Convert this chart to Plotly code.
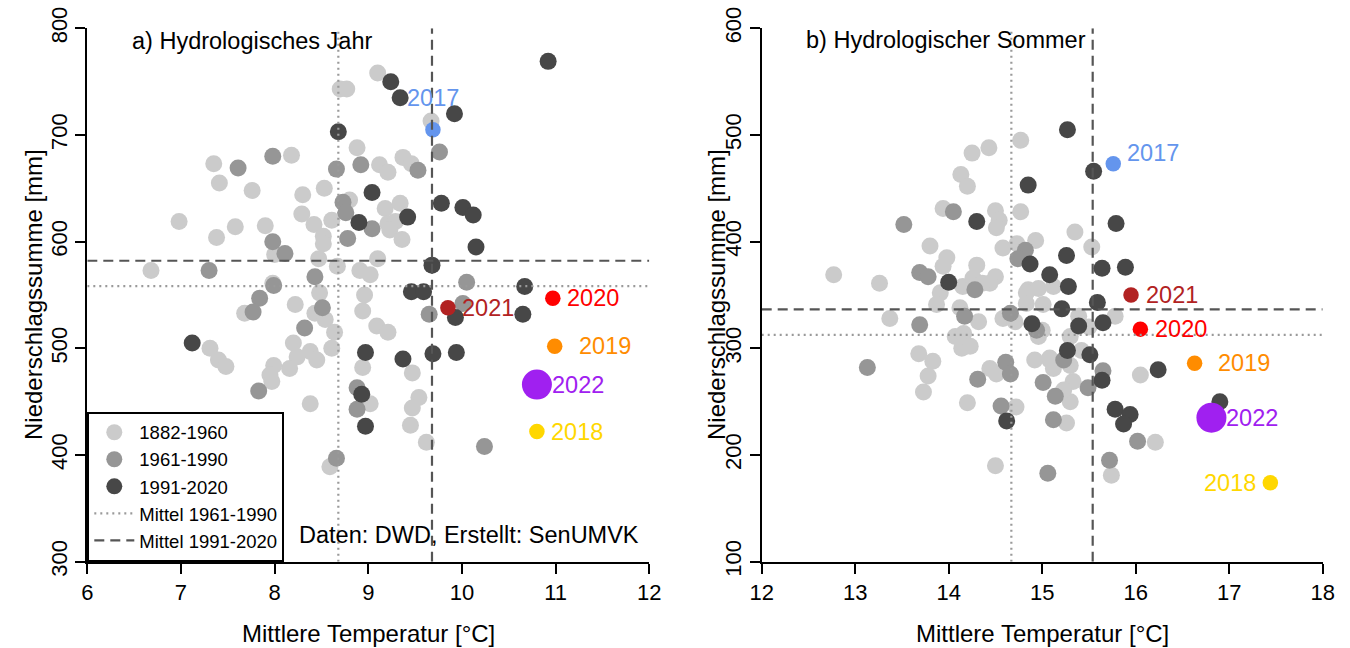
import plotly.graph_objects as go

FONT = "Liberation Sans, Arial, sans-serif"
W, H = 1350, 648

# ---------------- data: panel a) Hydrologisches Jahr ----------------
a_1882_1960_temp = [9.10, 8.70, 8.77, 8.88, 9.12, 8.18, 7.35, 7.41, 7.76, 8.53, 8.30, 8.80, 8.29, 8.42,
                    8.61, 6.98, 7.58, 7.90, 7.38, 8.52, 8.52, 8.00, 8.47, 8.67, 6.68, 8.91, 9.02, 9.10,
                    7.98, 8.48, 8.96, 7.68, 8.22, 8.43, 8.54, 8.64, 8.20, 8.61, 8.38, 8.45, 8.24, 8.16,
                    7.99, 7.95, 7.97, 8.38, 7.31, 7.40, 7.48, 8.94, 9.09, 8.94, 9.02, 8.59, 9.21, 9.37,
                    9.46, 9.18, 9.34, 9.21, 9.29, 9.23, 9.36, 9.67, 9.21, 9.47, 9.54, 9.47, 9.45, 9.62]
a_1882_1960_prec = [758, 743, 743, 688, 672, 681, 673, 655, 648, 650, 644, 639, 626, 616,
                    620, 619, 614, 615, 604, 605, 598, 588, 584, 577, 573, 573, 569, 584,
                    561, 552, 550, 533, 541, 533, 527, 515, 505, 500, 497, 489, 492, 481,
                    484, 475, 469, 448, 500, 489, 483, 535, 521, 482, 448, 389, 665, 679,
                    673, 631, 636, 617, 619, 611, 602, 713, 515, 477, 454, 444, 428, 412]

a_1961_1990_temp = [8.92, 7.98, 7.61, 8.66, 8.73, 8.76, 9.04, 8.78, 7.98, 8.11, 7.30, 8.43, 7.99, 7.84,
                    7.77, 8.51, 8.32, 7.83, 8.88, 8.88, 8.66, 9.76, 9.53, 10.05, 10.01, 9.65, 10.24]
a_1961_1990_prec = [672, 680, 669, 668, 637, 627, 612, 603, 600, 589, 573, 567, 559, 547,
                    534, 538, 519, 460, 463, 443, 397, 684, 667, 562, 542, 532, 408]

a_1991_2020_temp = [8.68, 9.04, 8.90, 7.12, 8.97, 8.93, 8.97, 9.24, 9.34, 9.92, 10.92, 9.78, 10.01,
                    10.12, 9.42, 10.15, 9.68, 10.67, 9.46, 9.59, 9.93, 10.65, 9.37, 9.69, 9.94]
a_1991_2020_prec = [703, 646, 618, 505, 496, 457, 427, 750, 735, 720, 769, 636, 632,
                    625, 623, 595, 578, 558, 553, 553, 529, 532, 490, 495, 496]

highlight_years = ["2017", "2018", "2019", "2020", "2021", "2022"]
a_highlight_temp = [9.69, 10.80, 10.99, 10.97, 9.85, 10.80]
a_highlight_prec = [705, 422, 502, 547, 538, 466]

a_mean_1961_1990 = (8.68, 558.4)   # (temperature, precipitation)
a_mean_1991_2020 = (9.68, 582.1)

# ---------------- data: panel b) Hydrologischer Sommer ----------------
b_1882_1960_temp = [14.77, 14.25, 14.43, 14.13, 14.20, 13.94, 14.50, 14.54, 14.51, 14.77, 13.80, 14.58,
                    14.73, 14.93, 13.98, 13.94, 14.30, 14.50, 14.44, 12.77, 13.26, 14.15, 14.26, 14.36,
                    13.91, 14.85, 14.96, 15.35, 15.53, 15.12, 13.87, 14.12, 14.32, 13.37, 14.58, 14.71,
                    14.96, 14.83, 14.83, 15.01, 14.07, 14.16, 14.14, 14.23, 13.68, 13.83, 13.78, 13.73,
                    14.20, 14.44, 14.51, 14.72, 14.50, 14.92, 15.08, 15.39, 15.78, 15.50, 15.00, 15.30,
                    15.42, 15.08, 15.24, 15.12, 15.30, 16.05, 15.33, 15.30, 15.23, 15.26, 16.21, 15.74]
b_1882_1960_prec = [495, 483, 488, 463, 452, 431, 429, 420, 413, 428, 396, 394,
                    398, 401, 385, 377, 378, 367, 361, 369, 361, 358, 366, 361,
                    352, 355, 356, 409, 395, 358, 341, 338, 325, 328, 328, 325,
                    311, 352, 342, 341, 311, 314, 300, 302, 295, 288, 274, 259,
                    249, 281, 276, 245, 190, 289, 289, 330, 330, 320, 317, 311,
                    298, 291, 289, 281, 284, 275, 269, 250, 261, 230, 212, 181]

b_1961_1990_temp = [14.05, 13.52, 14.82, 14.74, 13.69, 13.78, 14.28, 14.17, 13.69, 14.66, 14.94, 13.13,
                    14.31, 14.61, 14.66, 14.56, 15.01, 15.14, 15.12, 15.06, 15.23, 15.65, 15.49, 16.02,
                    15.72]
b_1961_1990_prec = [428, 416, 392, 384, 371, 367, 355, 330, 322, 333, 317, 282,
                    271, 287, 276, 246, 268, 255, 233, 183, 289, 279, 263, 213,
                    195]

b_1991_2020_temp = [14.85, 14.30, 14.87, 14.00, 15.08, 15.27, 15.55, 15.79, 15.26, 15.64, 15.89, 15.28,
                    14.89, 14.62, 15.21, 15.59, 15.39, 15.65, 15.27, 15.51, 15.64, 16.24, 15.78, 15.94,
                    15.87, 16.90]
b_1991_2020_prec = [453, 419, 379, 362, 369, 505, 466, 417, 387, 375, 376, 358,
                    323, 232, 337, 343, 321, 324, 298, 294, 270, 280, 243, 238,
                    229, 250]

b_highlight_temp = [15.76, 17.44, 16.63, 16.05, 15.95, 16.81]
b_highlight_prec = [473, 174, 286, 318, 350, 235]

b_mean_1961_1990 = (14.67, 312.6)
b_mean_1991_2020 = (15.54, 336.6)

# ---------------- axes / labels ----------------
a_x_range = [6, 12]
a_y_range = [300, 800]
b_x_range = [12, 18]
b_y_range = [100, 600]

group_names = ["1882-1960", "1961-1990", "1991-2020"]
group_colors = ["#cbcbcb", "#969696", "#474747"]
highlight_colors = ["#6495ED", "#FFD700", "#FF8C00", "#FF0000", "#B22222", "#A020F0"]
highlight_sizes = [15.5, 15.5, 15.5, 15.5, 15.5, 30]
mean_names = ["Mittel 1961-1990", "Mittel 1991-2020"]
mean_styles = [dict(color="#9a9a9a", width=2.2, dash="2px,4px"),
               dict(color="#555555", width=2.2, dash="10px,6px")]

# label placement per panel: (xanchor, xshift, yshift)
a_label_place = [("center", 0, 32), ("left", 12, 0), ("left", 22, 0),
                 ("left", 12, 0), ("left", 12, 0), ("left", 13, 0)]
b_label_place = [("left", 12, 11), ("right", -12, 0), ("left", 21, 0),
                 ("left", 13, 0), ("left", 13, 0), ("left", 13, 0)]

fig = go.Figure()

panels = [
    dict(xa="x", ya="y", groups=[(a_1882_1960_temp, a_1882_1960_prec), (a_1961_1990_temp, a_1961_1990_prec),
                                 (a_1991_2020_temp, a_1991_2020_prec)],
         hl=(a_highlight_temp, a_highlight_prec), means=[a_mean_1961_1990, a_mean_1991_2020],
         xr=a_x_range, yr=a_y_range, place=a_label_place, legend=True),
    dict(xa="x2", ya="y2", groups=[(b_1882_1960_temp, b_1882_1960_prec), (b_1961_1990_temp, b_1961_1990_prec),
                                   (b_1991_2020_temp, b_1991_2020_prec)],
         hl=(b_highlight_temp, b_highlight_prec), means=[b_mean_1961_1990, b_mean_1991_2020],
         xr=b_x_range, yr=b_y_range, place=b_label_place, legend=False),
]

annotations = []
for p in panels:
    for (tx, py), name, col in zip(p["groups"], group_names, group_colors):
        fig.add_trace(go.Scatter(x=tx, y=py, mode="markers", name=name, xaxis=p["xa"], yaxis=p["ya"],
                                 marker=dict(color=col, size=17, opacity=1, line=dict(width=0)),
                                 showlegend=p["legend"], legendgroup=name))
    hx, hy = p["hl"]
    fig.add_trace(go.Scatter(x=hx, y=hy, mode="markers", xaxis=p["xa"], yaxis=p["ya"], showlegend=False,
                             marker=dict(color=highlight_colors, size=highlight_sizes, opacity=1,
                                         line=dict(width=0))))
    for (mt, mp), name, style in zip(p["means"], mean_names, mean_styles):
        fig.add_trace(go.Scatter(x=[p["xr"][0], p["xr"][1], None, mt, mt],
                                 y=[mp, mp, None, p["yr"][0], p["yr"][1]],
                                 mode="lines", name=name, line=style, xaxis=p["xa"], yaxis=p["ya"],
                                 showlegend=p["legend"], legendgroup=name, connectgaps=False))
    for yr_, x_, y_, col, (xanc, xs, ys) in zip(highlight_years, hx, hy, highlight_colors, p["place"]):
        annotations.append(dict(x=x_, y=y_, xref=p["xa"], yref=p["ya"], text=yr_, showarrow=False,
                                xanchor=xanc, yanchor="middle", xshift=xs, yshift=ys,
                                font=dict(color=col, size=23.5, family=FONT)))

def px_x(v):
    return v / W

def px_y(v):
    return 1 - v / H

text_items = [
    ("a) Hydrologisches Jahr", 130, 41, "left", 0, 23.5),
    ("b) Hydrologischer Sommer", 804, 40, "left", 0, 23.5),
    ("Daten: DWD, Erstellt: SenUMVK", 297, 535, "left", 0, 23.5),
    ("Mittlere Temperatur [°C]", 368, 633, "center", 0, 24),
    ("Mittlere Temperatur [°C]", 1042, 633, "center", 0, 24),
    ("Niederschlagssumme [mm]", 33, 295, "center", -90, 24),
    ("Niederschlagssumme [mm]", 716, 295, "center", -90, 24),
]
for t, x_, y_, xanc, ang, fs in text_items:
    annotations.append(dict(x=px_x(x_), y=px_y(y_), xref="paper", yref="paper", text=t, showarrow=False,
                            xanchor=xanc, yanchor="middle", textangle=ang,
                            font=dict(size=fs, color="black", family=FONT)))

axis_common = dict(showline=True, linecolor="black", linewidth=2, ticks="outside", ticklen=10,
                   tickwidth=2, tickcolor="black", showgrid=False, zeroline=False, mirror=False,
                   automargin=False, tickfont=dict(size=22, color="black", family=FONT))
y_bottom = px_y(561.7)
y_top = px_y(28.3)

fig.update_layout(
    template="none",
    width=W, height=H, margin=dict(l=0, r=0, t=0, b=0, pad=0, autoexpand=False),
    paper_bgcolor="white", plot_bgcolor="white",
    font=dict(family=FONT, color="black"),
    xaxis=dict(domain=[px_x(87.3), px_x(649.3)], range=a_x_range, dtick=1, anchor="y", **axis_common),
    yaxis=dict(domain=[y_bottom, y_top], range=a_y_range, dtick=100, anchor="x", tickangle=-90,
               **axis_common),
    xaxis2=dict(domain=[px_x(761.7), px_x(1322.7)], range=b_x_range, dtick=1, anchor="y2", **axis_common),
    yaxis2=dict(domain=[y_bottom, y_top], range=b_y_range, dtick=100, anchor="x2", tickangle=-90,
                **axis_common),
    legend=dict(x=px_x(87.3), y=y_bottom, xanchor="left", yanchor="bottom", bgcolor="white",
                bordercolor="black", borderwidth=2, font=dict(size=18.5, family=FONT, color="black"),
                tracegroupgap=0, itemwidth=40),
    annotations=annotations,
    showlegend=True,
)

fig.write_html("out.html", post_script="document.body.style.margin='0';",
               config={"responsive": False, "displayModeBar": False})
